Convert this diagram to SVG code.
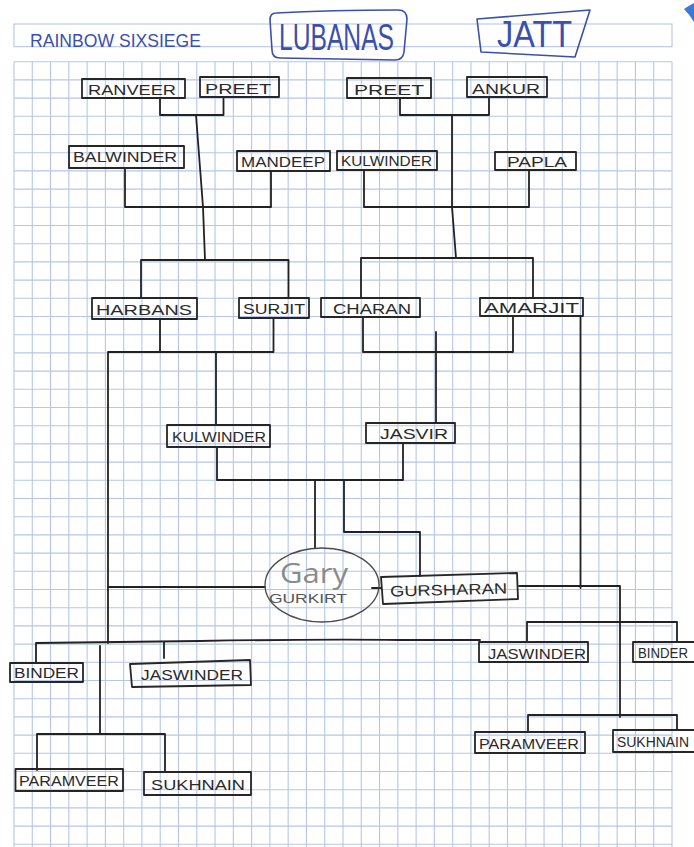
<svg xmlns="http://www.w3.org/2000/svg" width="694" height="847" viewBox="0 0 694 847">
<style>
.grid{fill:none;stroke:#b7c6e8;stroke-width:1.1}
.box{fill:none;stroke:#262626;stroke-width:1.8;stroke-linejoin:round}
.lbl{font-family:"Liberation Sans",Arial,sans-serif;font-size:15px;fill:#2a2a2a}
.wire{fill:none;stroke:#222;stroke-width:1.8;stroke-linejoin:round;stroke-linecap:round}
.ink{fill:none;stroke:#3b4fae;stroke-width:1.6;stroke-linejoin:round}
.blue{font-family:"Liberation Sans",Arial,sans-serif;fill:#3b4fae}
</style>
<rect width="694" height="847" fill="#ffffff"/>
<path d="M684,9 Q690,5 694,3 L694,22 Q690,15 684,9 Z" fill="#3b7ad6"/>
<g id="paper">
<rect class="grid" x="14" y="24" width="658" height="22.7"/>
<path class="grid" d="M14,61.7V847M32.28,61.7V847M50.56,61.7V847M68.83,61.7V847M87.11,61.7V847M105.39,61.7V847M123.67,61.7V847M141.94,61.7V847M160.22,61.7V847M178.5,61.7V847M196.78,61.7V847M215.06,61.7V847M233.33,61.7V847M251.61,61.7V847M269.89,61.7V847M288.17,61.7V847M306.44,61.7V847M324.72,61.7V847M343,61.7V847M361.28,61.7V847M379.56,61.7V847M397.83,61.7V847M416.11,61.7V847M434.39,61.7V847M452.67,61.7V847M470.94,61.7V847M489.22,61.7V847M507.5,61.7V847M525.78,61.7V847M544.06,61.7V847M562.33,61.7V847M580.61,61.7V847M598.89,61.7V847M617.17,61.7V847M635.44,61.7V847M653.72,61.7V847M672,61.7V847"/>
<path class="grid" d="M14,61.7H672M14,79.9H672M14,98.1H672M14,116.3H672M14,134.5H672M14,152.7H672M14,170.9H672M14,189.1H672M14,207.3H672M14,225.5H672M14,243.7H672M14,261.9H672M14,280.1H672M14,298.3H672M14,316.5H672M14,334.7H672M14,352.9H672M14,371.1H672M14,389.3H672M14,407.5H672M14,425.7H672M14,443.9H672M14,462.1H672M14,480.3H672M14,498.5H672M14,516.7H672M14,534.9H672M14,553.1H672M14,571.3H672M14,589.5H672M14,607.7H672M14,625.9H672M14,644.1H672M14,662.3H672M14,680.5H672M14,698.7H672M14,716.9H672M14,735.1H672M14,753.3H672M14,771.5H672M14,789.7H672M14,807.9H672M14,826.1H672M14,844.3H672"/>
</g>
<g id="header">
<text class="blue" x="30" y="46.5" font-size="19" textLength="171" lengthAdjust="spacingAndGlyphs">RAINBOW SIXSIEGE</text>
</g>
<g id="lubanas">
<path class="ink" d="M276,13 Q330,10 398,10 Q407,10 407,19 L404,52 Q403,60 395,60 L280,58 Q272,58 272,50 L270,20 Q270,13 276,13 Z"/>
<text class="blue" x="279" y="50" font-size="36" textLength="115" lengthAdjust="spacingAndGlyphs">LUBANAS</text>
</g>
<g id="jatt">
<path class="ink" d="M477,19 L590,10 L575,57 L481,52 Z"/>
<text class="blue" x="497" y="47" font-size="36" textLength="75" lengthAdjust="spacingAndGlyphs">JATT</text>
</g>
<g id="connectors">
<path class="wire" d="M160,98V115H223.5V97.7"/>
<path class="wire" d="M196,115L203,207L205,260"/>
<path class="wire" d="M125,168V207H271V171"/>
<path class="wire" d="M141,298V260H288.5V298"/>
<path class="wire" d="M400,98V115H489V97"/>
<path class="wire" d="M452,115V207L456,258"/>
<path class="wire" d="M364,170V207H529V170"/>
<path class="wire" d="M361,298V258H533V298"/>
<path class="wire" d="M160,319V352M273.5,318V352M108,643V352H273.5"/>
<path class="wire" d="M216,352V425"/>
<path class="wire" d="M363,317V352H513V316"/>
<path class="wire" d="M436,332V423"/>
<path class="wire" d="M580.5,316V588"/>
<path class="wire" d="M217,447V480H403V443"/>
<path class="wire" d="M315,480V548"/>
<path class="wire" d="M344,480V532H420V576"/>
<path class="wire" d="M108,587H265"/>
<path class="wire" d="M372,588H381"/>
<path class="wire" d="M519,586H620V717"/>
<path class="wire" d="M527,642V622H677V642"/>
<path class="wire" d="M36,662V643Q120,642 200,641Q320,639 400,640H480"/>
<path class="wire" d="M164,642V658"/>
<path class="wire" d="M100,646V734"/>
<path class="wire" d="M37,770V734H165V772"/>
<path class="wire" d="M528,732V715H677V730"/>
</g>
<g id="ranveer"><rect class="box" x="82" y="79" width="103" height="19"/><text class="lbl" x="88" y="95" textLength="88" lengthAdjust="spacingAndGlyphs">RANVEER</text></g>
<g id="preet-1"><rect class="box" x="200" y="77" width="79" height="20"/><text class="lbl" x="205" y="94" textLength="66" lengthAdjust="spacingAndGlyphs">PREET</text></g>
<g id="preet-2"><rect class="box" x="347" y="78" width="84" height="20"/><text class="lbl" x="354" y="95" textLength="70" lengthAdjust="spacingAndGlyphs">PREET</text></g>
<g id="ankur"><rect class="box" x="467" y="77" width="80" height="20"/><text class="lbl" x="472" y="94" textLength="68" lengthAdjust="spacingAndGlyphs">ANKUR</text></g>
<g id="balwinder"><rect class="box" x="69" y="146" width="115" height="22"/><text class="lbl" x="73" y="162" textLength="104" lengthAdjust="spacingAndGlyphs">BALWINDER</text></g>
<g id="mandeep"><rect class="box" x="237" y="151" width="93" height="20"/><text class="lbl" x="241" y="167" textLength="84" lengthAdjust="spacingAndGlyphs">MANDEEP</text></g>
<g id="kulwinder-1"><rect class="box" x="337" y="151" width="100" height="19"/><text class="lbl" x="341" y="166" textLength="91" lengthAdjust="spacingAndGlyphs">KULWINDER</text></g>
<g id="papla"><rect class="box" x="495" y="152" width="81" height="18"/><text class="lbl" x="507" y="167" textLength="60" lengthAdjust="spacingAndGlyphs">PAPLA</text></g>
<g id="harbans"><rect class="box" x="92" y="298" width="105" height="21"/><text class="lbl" x="96" y="315" textLength="96" lengthAdjust="spacingAndGlyphs">HARBANS</text></g>
<g id="surjit"><rect class="box" x="239" y="298" width="70" height="20"/><text class="lbl" x="243" y="314" textLength="62" lengthAdjust="spacingAndGlyphs">SURJIT</text></g>
<g id="charan"><rect class="box" x="321" y="298" width="99" height="19"/><text class="lbl" x="333" y="314" textLength="78" lengthAdjust="spacingAndGlyphs">CHARAN</text></g>
<g id="amarjit"><rect class="box" x="480" y="298" width="103" height="18"/><text class="lbl" x="484" y="313" textLength="95" lengthAdjust="spacingAndGlyphs">AMARJIT</text></g>
<g id="kulwinder-2"><rect class="box" x="167" y="425" width="103" height="22"/><text class="lbl" x="172" y="442" textLength="94" lengthAdjust="spacingAndGlyphs">KULWINDER</text></g>
<g id="jasvir"><rect class="box" x="366" y="423" width="89" height="20"/><text class="lbl" x="380" y="439" textLength="68" lengthAdjust="spacingAndGlyphs">JASVIR</text></g>
<g id="gary">
<ellipse cx="322" cy="585" rx="57" ry="37" fill="none" stroke="#4a4a4a" stroke-width="1.3"/>
<text x="280" y="583" font-family="'Open Sans',sans-serif" font-size="28" fill="#8a8a8a" textLength="68" lengthAdjust="spacingAndGlyphs">Gary</text>
<text x="269" y="603" font-family="'Liberation Sans',sans-serif" font-size="13" fill="#555" textLength="78" lengthAdjust="spacingAndGlyphs">GURKIRT</text>
</g>
<g id="gursharan"><path class="box" d="M381,577L517,573L518,599L383,604Z"/><text class="lbl" x="390" y="595" textLength="117" lengthAdjust="spacingAndGlyphs" transform="rotate(-1.5 450 590)">GURSHARAN</text></g>
<g id="binder-1"><rect class="box" x="10" y="663" width="73" height="19"/><text class="lbl" x="14" y="678" textLength="65" lengthAdjust="spacingAndGlyphs">BINDER</text></g>
<g id="jaswinder-1"><path class="box" d="M130,664L250,660L251,685L132,687Z"/><text class="lbl" x="141" y="680" textLength="102" lengthAdjust="spacingAndGlyphs">JASWINDER</text></g>
<g id="jaswinder-2"><rect class="box" x="479" y="642" width="109" height="20"/><text class="lbl" x="488" y="659" textLength="98" lengthAdjust="spacingAndGlyphs">JASWINDER</text></g>
<g id="binder-2"><path class="box" d="M694,642H633V662H694"/><text class="lbl" x="638" y="658" textLength="50" lengthAdjust="spacingAndGlyphs">BINDER</text></g>
<g id="paramveer-1"><rect class="box" x="15.5" y="769" width="107.5" height="22"/><text class="lbl" x="19" y="786" textLength="100" lengthAdjust="spacingAndGlyphs">PARAMVEER</text></g>
<g id="sukhnain-1"><rect class="box" x="144" y="772" width="107" height="23"/><text class="lbl" x="151" y="790" textLength="94" lengthAdjust="spacingAndGlyphs">SUKHNAIN</text></g>
<g id="paramveer-2"><rect class="box" x="475" y="732" width="110" height="21"/><text class="lbl" x="479" y="749" textLength="100" lengthAdjust="spacingAndGlyphs">PARAMVEER</text></g>
<g id="sukhnain-2"><path class="box" d="M694,730H613V752H694"/><text class="lbl" x="617" y="747" textLength="72" lengthAdjust="spacingAndGlyphs">SUKHNAIN</text></g>
</svg>
